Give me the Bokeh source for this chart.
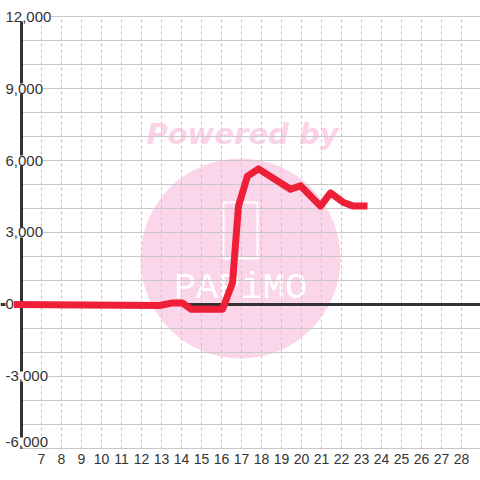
from bokeh.plotting import figure
from bokeh.models import (Range1d, FixedTicker, Span, LabelSet, ColumnDataSource)
from bokeh.core.properties import value
from bokeh.embed import file_html
from bokeh.resources import INLINE

# ---- data ----
days = [5.5, 12.9, 13.5, 14.05, 14.5, 16.05, 16.55, 16.85, 17.3, 17.85,
        19.45, 19.95, 20.95, 21.45, 22.1, 22.6, 23.3]
values = [0, -40, 60, 60, -200, -200, 900, 4100, 5350, 5650,
          4800, 4950, 4100, 4650, 4250, 4100, 4100]

x_ticks = list(range(7, 29))
y_major = [-6000, -3000, 0, 3000, 6000, 9000, 12000]
y_labels = ["-6,000", "-3,000", "0", "3,000", "6,000", "9,000", "12,000"]
y_minor = list(range(-6000, 12001, 1000))

X_AXIS = 6
X_START, X_END = 4.95, 28.95
Y_MIN, Y_MAX = -6000, 12000
Y_START, Y_END = -6166.7, 12666.7

p = figure(width=480, height=480, output_backend="svg", toolbar_location=None,
           x_range=Range1d(X_START, X_END), y_range=Range1d(Y_START, Y_END),
           min_border_left=0, min_border_right=0, min_border_top=0,
           min_border_bottom=28)
p.outline_line_color = None
p.background_fill_color = "white"
p.border_fill_color = "white"
p.xgrid.visible = False
p.ygrid.visible = False
p.yaxis.visible = False

# watermark
wm = p.scatter(x=[16.95], y=[1917], size=200, marker="circle",
               fill_color="#fbd6ea", line_color=None)
wm.level = "image"
t1 = p.text(x=[17.05], y=[7100], text=["Powered by"], text_align="center",
            text_baseline="middle", text_color="#fbd3e9",
            text_font=value("DejaVu Sans"), text_font_style="bold italic",
            text_font_size="29px")
t1.level = "image"
r1 = p.rect(x=[16.95], y=[3080], width=34, height=56, width_units="screen",
            height_units="screen", fill_alpha=0, line_color="white", line_width=2)
r1.level = "image"
t2 = p.text(x=[16.95], y=[700], text=["PAPiMO"], text_align="center",
            text_baseline="middle", text_color="white",
            text_font=value("Liberation Mono"), text_font_size="37px")
t2.level = "image"

# grid lines (drawn only inside the value range)
hg = p.segment(x0=[X_AXIS] * len(y_minor), x1=[X_END] * len(y_minor),
               y0=y_minor, y1=y_minor, line_color="#c8c8c8", line_width=1)
hg.level = "underlay"
vg = p.segment(x0=x_ticks, x1=x_ticks, y0=[Y_MIN] * len(x_ticks),
               y1=[Y_MAX] * len(x_ticks), line_color="#c4c4c4",
               line_dash="3 3", line_width=1)
vg.level = "underlay"

p.xaxis.ticker = FixedTicker(ticks=x_ticks)
p.xaxis.axis_line_color = None
p.xaxis.major_tick_line_color = None
p.xaxis.minor_tick_line_color = None
p.xaxis.major_tick_out = 0
p.xaxis.major_label_standoff = 1
p.xaxis.major_label_text_font = "Liberation Sans"
p.xaxis.major_label_text_font_size = "14px"
p.xaxis.major_label_text_color = "#333333"

# axis lines
zero = Span(location=0, dimension="width", line_color="#333333", line_width=3)
zero.level = "underlay"
p.add_layout(zero)
yax = p.segment(x0=[X_AXIS], x1=[X_AXIS], y0=[Y_MIN], y1=[Y_MAX],
                line_color="#333333", line_width=3)
yax.level = "underlay"

# series
p.line(days, values, line_color="#ee1f36", line_width=7, line_join="round")

# y tick labels with white background (bottom one lifted to stay inside)
lab_src = ColumnDataSource(dict(
    x=[X_START] * len(y_major), y=y_major, text=y_labels,
    dy=[6 if v == Y_MIN else 0 for v in y_major]))
labels = LabelSet(x="x", y="y", text="text", source=lab_src, x_offset=5, y_offset="dy",
                  text_align="left", text_baseline="middle",
                  text_font=value("Liberation Sans"), text_font_size="15px",
                  text_color="#333333", background_fill_color="white")
p.add_layout(labels)

open("out.html", "w").write(file_html(p, INLINE))
